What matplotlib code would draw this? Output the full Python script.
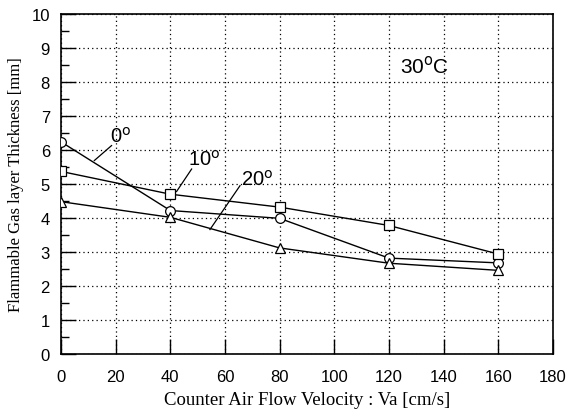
"""Flammable gas layer thickness vs counter air flow velocity (30 C)."""

import matplotlib
matplotlib.use("Agg")
import matplotlib.pyplot as plt
from matplotlib.ticker import MultipleLocator

# ---------------------------------------------------------------------------
# Data
# ---------------------------------------------------------------------------
velocity = [0, 40, 80, 120, 160]
thick_0deg = [6.24, 4.22, 3.99, 2.82, 2.68]
thick_10deg = [5.37, 4.70, 4.32, 3.78, 2.94]
thick_20deg = [4.48, 4.02, 3.12, 2.67, 2.46]

x_ticks = list(range(0, 181, 20))
y_ticks = list(range(0, 11))

SANS = ["Liberation Sans", "DejaVu Sans"]
SERIF = ["Liberation Serif", "DejaVu Serif"]

fig = plt.figure(figsize=(5.7, 4.14), dpi=100)
ax = fig.add_axes([0.107, 0.1425, 0.863, 0.8213])

marker_kw = dict(color="black", linewidth=1.0, markersize=7,
                 markerfacecolor="white", markeredgecolor="black",
                 markeredgewidth=0.9, zorder=3)
ax.plot(velocity, thick_0deg, marker="o", **marker_kw)
ax.plot(velocity, thick_10deg, marker="s", **marker_kw)
ax.plot(velocity, thick_20deg, marker="^", **marker_kw)

# curve labels with leader lines
labels = [
    ("0$^\\mathrm{o}$", (12.2, 5.69), (18.5, 6.13), (22.0, 6.42)),
    ("10$^\\mathrm{o}$", (42.3, 4.78), (47.8, 5.44), (52.3, 5.75)),
    ("20$^\\mathrm{o}$", (54.5, 3.66), (65.5, 4.95), (71.8, 5.17)),
]
for text, p0, p1, ptxt in labels:
    ax.plot([p0[0], p1[0]], [p0[1], p1[1]], color="black", linewidth=0.9)
    ax.text(ptxt[0], ptxt[1], text, fontsize=14.5, family=SANS,
            ha="center", va="center")

ax.text(133, 8.5, "30$^\\mathrm{o}$C", fontsize=15, family=SANS,
        ha="center", va="center")

ax.set_xlim(0, 180)
ax.set_ylim(0, 10)
ax.set_xticks(x_ticks)
ax.set_yticks(y_ticks)
ax.yaxis.set_minor_locator(MultipleLocator(0.5))
ax.tick_params(axis="both", which="major", direction="in", length=11,
               width=1.0, labelsize=12, colors="black")
ax.tick_params(axis="x", pad=11)
ax.tick_params(axis="y", pad=8)
ax.tick_params(axis="y", which="minor", direction="in", length=5.5, width=1.0)
for lbl in ax.get_xticklabels() + ax.get_yticklabels():
    lbl.set_family(SANS)

ax.grid(True, which="major", color="black", linestyle=(0, (1, 2.5)),
        linewidth=0.9)
for sp in ax.spines.values():
    sp.set_linewidth(1.2)

ax.set_xlabel("Counter Air Flow Velocity : Va [cm/s]", fontsize=13.5,
              family=SERIF, labelpad=5)
ax.set_ylabel("Flammable Gas layer Thickness [mm]", fontsize=12,
              family=SERIF, labelpad=5)

fig.savefig("out.png", dpi=100)
